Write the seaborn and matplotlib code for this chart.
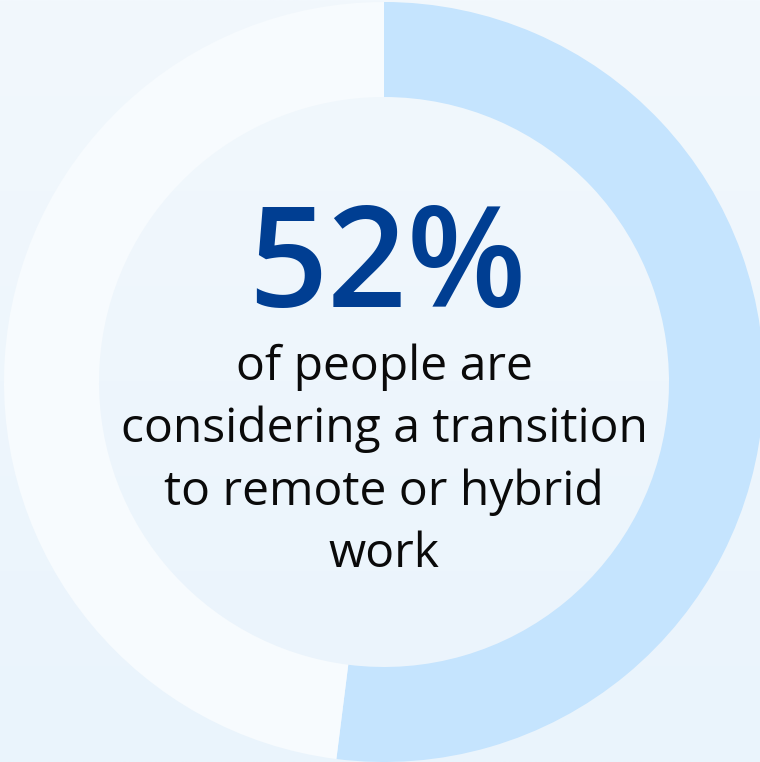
import numpy as np
import matplotlib
matplotlib.use("Agg")
import matplotlib.pyplot as plt
import seaborn as sns

# Donut data
segments = ["considering", "not considering"]
shares = [52, 48]
headline = "52%"
caption_lines = [
    "of people are",
    "considering a transition",
    "to remote or hybrid",
    "work",
]

ring_colors = ["#C5E4FE", "#F7FBFE"]
headline_color = "#003E92"

sns.set_theme(style="white")
plt.rcParams["font.family"] = ["Open Sans", "DejaVu Sans"]

W, H = 760, 762
fig = plt.figure(figsize=(W / 100, H / 100), dpi=100)
ax = fig.add_axes([0, 0, 1, 1])

# soft vertical background gradient
grad = np.linspace(0, 1, 256).reshape(-1, 1)
top = np.array([0xF2, 0xF8, 0xFD]) / 255
bottom = np.array([0xEA, 0xF4, 0xFC]) / 255
bg = top + (bottom - top) * grad[..., None]
bg = np.repeat(bg, 2, axis=1)
ax.imshow(bg, extent=[0, W, 0, H], origin="upper", aspect="auto", zorder=0)

cx, cy = 384, H - 382
ax.pie(
    shares,
    colors=ring_colors,
    startangle=90,
    counterclock=False,
    radius=380,
    center=(cx, cy),
    wedgeprops=dict(width=95, edgecolor="none", linewidth=0),
    frame=True,
)

ax.text(cx + 3, H - 307, headline, ha="center", va="baseline",
        fontsize=100, fontweight="semibold", color=headline_color)

baselines = [380, 442, 505, 567]
for line, b in zip(caption_lines, baselines):
    ax.text(cx, H - b, line, ha="center", va="baseline",
            fontsize=34.6, color="#0A0A0A")

ax.set_xlim(0, W)
ax.set_ylim(0, H)
ax.set_aspect("auto")
ax.axis("off")

fig.savefig("out.png", dpi=100)
